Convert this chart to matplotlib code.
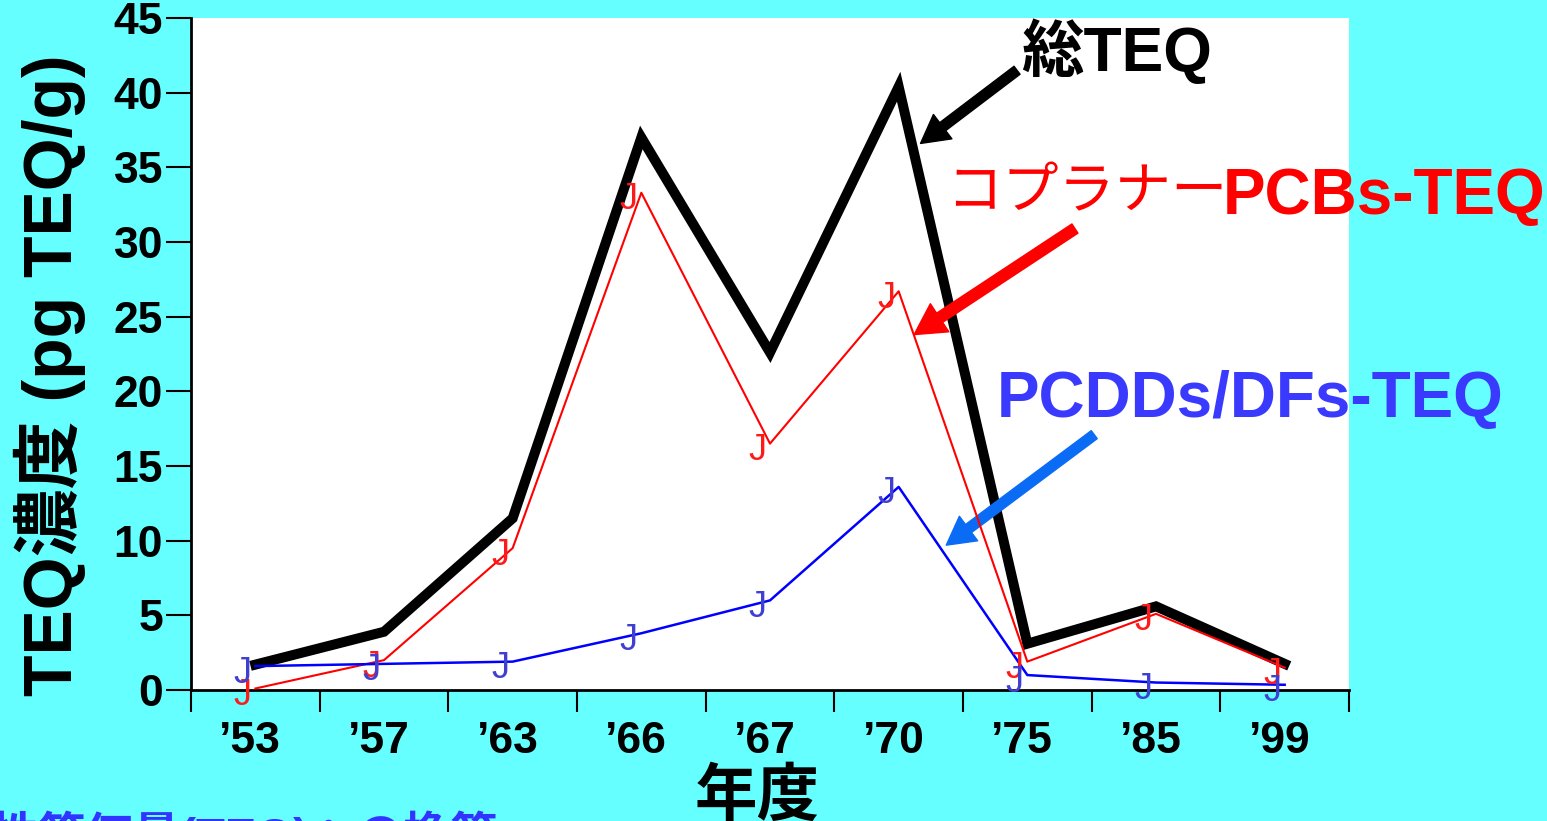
import matplotlib
matplotlib.use("Agg")
import matplotlib.pyplot as plt
import matplotlib.transforms as mtransforms

# Data
years = ["’53", "’57", "’63", "’66", "’67", "’70", "’75", "’85", "’99"]
total_teq = [1.7, 3.9, 11.5, 37.0, 22.6, 40.4, 3.1, 5.6, 1.75]
pcb_teq = [0.1, 2.0, 9.5, 33.3, 16.5, 26.7, 1.9, 5.1, 1.5]
pcdd_teq = [1.6, 1.75, 1.9, 3.8, 6.0, 13.6, 1.0, 0.5, 0.35]
y_ticks = [0, 5, 10, 15, 20, 25, 30, 35, 40, 45]

plt.rcParams['font.family'] = ['Liberation Sans', 'Noto Sans CJK JP']

W, H = 1547, 821
bg = '#66ffff'
fig = plt.figure(figsize=(W / 100, H / 100), dpi=100, facecolor=bg)
ax = fig.add_axes([191 / W, 1 - 690 / H, (1349 - 191) / W, (690 - 18) / H])
ax.set_facecolor('white')

x = list(range(len(years)))
ax.plot(x, total_teq, color='black', lw=7.2, solid_joinstyle='miter', zorder=3)
ax.plot(x, pcb_teq, color='#ff0000', lw=1.5, zorder=4)
ax.plot(x, pcdd_teq, color='#0000ff', lw=1.8, zorder=4)

# "J" markers (as rendered in the original)
for vals, col in [(pcb_teq, '#ff1a1a'), (pcdd_teq, '#4040d0')]:
    for i, v in enumerate(vals):
        ax.annotate('J', (i, v), xytext=(-9, -5), textcoords='offset points',
                    ha='center', va='center', fontsize=26, color=col,
                    family='Liberation Sans', zorder=5, annotation_clip=False)

ax.set_xlim(-0.5, len(years) - 0.5)
ax.set_ylim(0, 45)

for s in ['top', 'right']:
    ax.spines[s].set_visible(False)
for s in ['left', 'bottom']:
    ax.spines[s].set_linewidth(2)

ax.set_yticks(y_ticks)
ax.set_yticklabels([str(t) for t in y_ticks], fontsize=32, fontweight='bold')
ax.tick_params(axis='y', direction='out', length=18, width=1.5, pad=2)

ax.set_xticks(x)
ax.set_xticklabels(years, fontsize=32, fontweight='bold')
ax.set_xticks([i - 0.5 for i in range(len(years) + 1)], minor=True)
ax.tick_params(axis='x', which='major', length=0, pad=22)
ax.tick_params(axis='x', which='minor', direction='out', length=16, width=1.5)
shift = mtransforms.ScaledTranslation(-5 / 100, 0, fig.dpi_scale_trans)
for lab in ax.get_xticklabels():
    lab.set_transform(lab.get_transform() + shift)

fig.text(50 / W, 1 - 375 / H, 'TEQ濃度 (pg TEQ/g)', fontsize=49, fontweight='bold',
         rotation=90, ha='center', va='center')
fig.text(757 / W, 1 - 798 / H, '年度', fontsize=45, fontweight='bold',
         ha='center', va='center')

# annotations
arrow = 'simple,head_length=0.5,head_width=0.55,tail_width=0.18'
ax.text(5.95, 42.8, '総TEQ', fontsize=45, fontweight='bold', color='black',
        ha='left', va='center')
ax.annotate('', xy=(5.17, 36.6), xytext=(5.92, 41.5),
            arrowprops=dict(arrowstyle=arrow, color='black', mutation_scale=40,
                            shrinkA=0, shrinkB=0))

ax.text(5.37, 33.2, 'コプラナー', fontsize=40.5, color='#ff0000',
        ha='left', va='center')
ax.text(7.52, 33.0, 'PCBs-TEQ', fontsize=46, fontweight='bold', color='#ff0000',
        ha='left', va='center')
ax.annotate('', xy=(5.12, 23.8), xytext=(6.37, 30.9),
            arrowprops=dict(arrowstyle=arrow, color='#ff0000', mutation_scale=44,
                            shrinkA=0, shrinkB=0))

ax.text(5.76, 19.4, 'PCDDs/DFs-TEQ', fontsize=46, fontweight='bold', color='#3a3aff',
        ha='left', va='center')
ax.annotate('', xy=(5.37, 9.7), xytext=(6.52, 17.1),
            arrowprops=dict(arrowstyle=arrow, color='#0a6cf5', mutation_scale=40,
                            shrinkA=0, shrinkB=0))

# cut-off caption at the bottom
fig.text(-55 / W, 1 - 810 / H, '毒性等価量(TEQ)への換算', fontsize=34, fontweight='bold',
         color='#3333ff', ha='left', va='top')

fig.savefig('out.png', dpi=100, facecolor=bg)
